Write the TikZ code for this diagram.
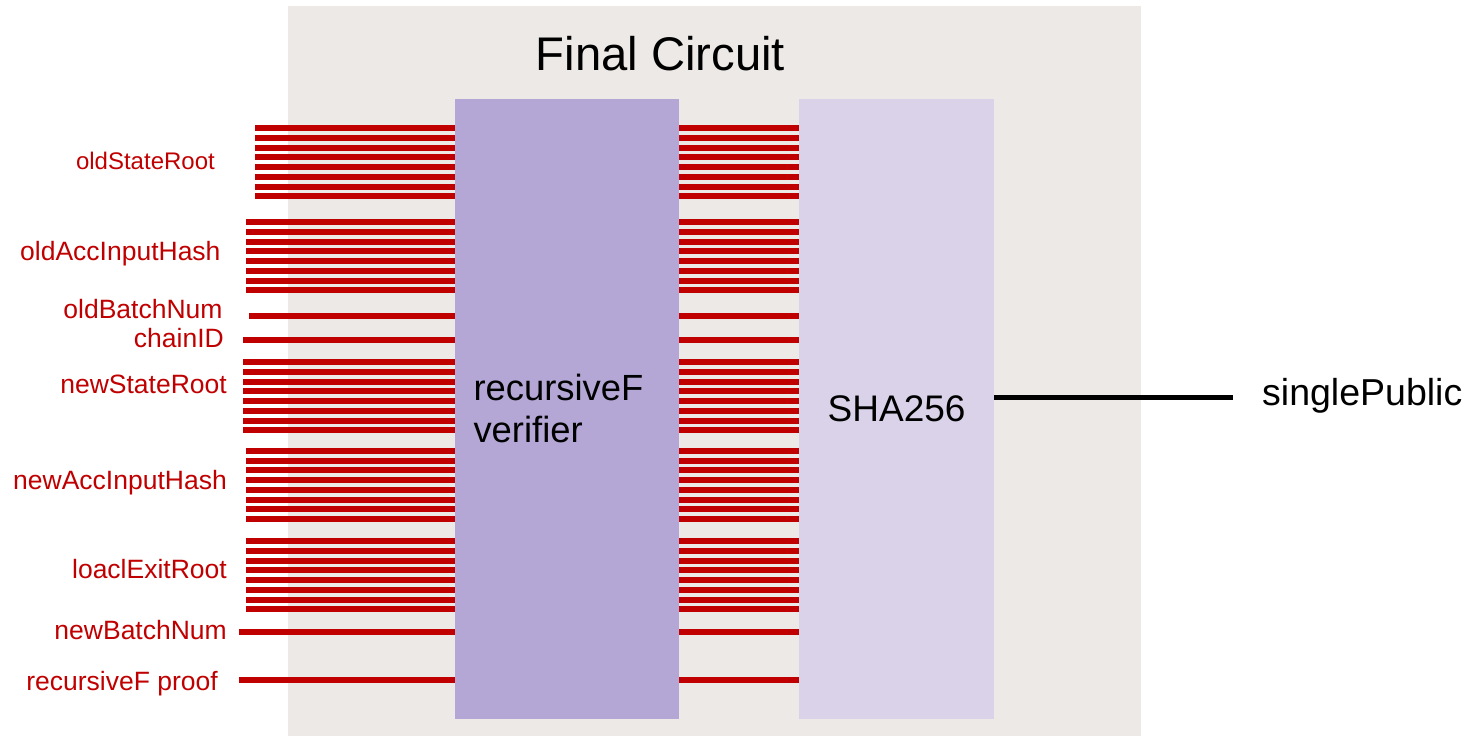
\documentclass[tikz,border=0pt]{standalone}
\usepackage{fontspec}
\setmainfont{Liberation Sans}
\definecolor{bggray}{HTML}{EDE9E6}
\definecolor{verpurple}{HTML}{B4A7D6}
\definecolor{shalav}{HTML}{D9D2E9}
\definecolor{wirered}{HTML}{C00000}
\tikzset{
  wire/.style={draw=wirered, line width=6pt},
  outwire/.style={draw=black, line width=5pt},
  lbl/.style={text=wirered, inner sep=0pt, anchor=base east, font=\fontsize{26.5}{30}\selectfont},
  blk/.style={inner sep=0pt, anchor=base west, text=black},
}
\begin{document}
\begin{tikzpicture}[x=1pt,y=-1pt]
\useasboundingbox (0,0) rectangle (1472,736);
\fill[bggray] (288,6) rectangle (1141,736);
\node[fill=verpurple, inner sep=0pt, minimum width=224pt, minimum height=620pt, anchor=north west] (ver) at (455,99) {};
\node[fill=shalav, inner sep=0pt, minimum width=195pt, minimum height=620pt, anchor=north west] (sha) at (799,99) {};
% title
\node[blk, font=\fontsize{47.2}{52}\selectfont] (title) at (535.7,70) {Final Circuit};
% box texts
\node[blk, font=\fontsize{36.4}{41.7}\selectfont, align=left, anchor=north west] (vertext) at (473.3,374) {recursiveF\\verifier};
\node[blk, font=\fontsize{37}{40}\selectfont] (shatext) at (827.5,421.7) {SHA256};
% bundles
\foreach \y/\x in {128.3/255.3, 222.3/246.3, 362.3/243, 451/246.3, 541.3/246.3}{
  \foreach \i in {0,...,7}{
    \coordinate (s) at (\x,\y+\i*9.714);
    \draw[wire] (s) -- (s -| ver.west);
    \draw[wire] (s -| ver.east) -- (s -| sha.west);
  }
}
% single wires
\foreach \y/\x in {316/249.3, 340.3/243, 632/238.7, 680/238.7}{
  \coordinate (s) at (\x,\y);
  \draw[wire] (s) -- (s -| ver.west);
  \draw[wire] (s -| ver.east) -- (s -| sha.west);
}
% labels
\node[lbl, font=\fontsize{24}{28}\selectfont] (l1) at (215,169) {oldStateRoot};
\node[lbl] (l2) at (220.7,260) {oldAccInputHash};
\node[lbl] (l3) at (222.7,318) {oldBatchNum};
\node[lbl] (l4) at (224,347) {chainID};
\node[lbl] (l5) at (227,393.3) {newStateRoot};
\node[lbl] (l6) at (227,489) {newAccInputHash};
\node[lbl] (l7) at (227,578) {loaclExitRoot};
\node[lbl] (l8) at (227,639) {newBatchNum};
\node[lbl] (l9) at (218,690) {recursiveF proof};
% output
\node[blk, font=\fontsize{37.5}{40}\selectfont] (out) at (1262,405) {singlePublic};
\coordinate (oe) at (1233,397.7);
\draw[outwire] (sha.east |- oe) -- (oe);
\end{tikzpicture}
\end{document}
